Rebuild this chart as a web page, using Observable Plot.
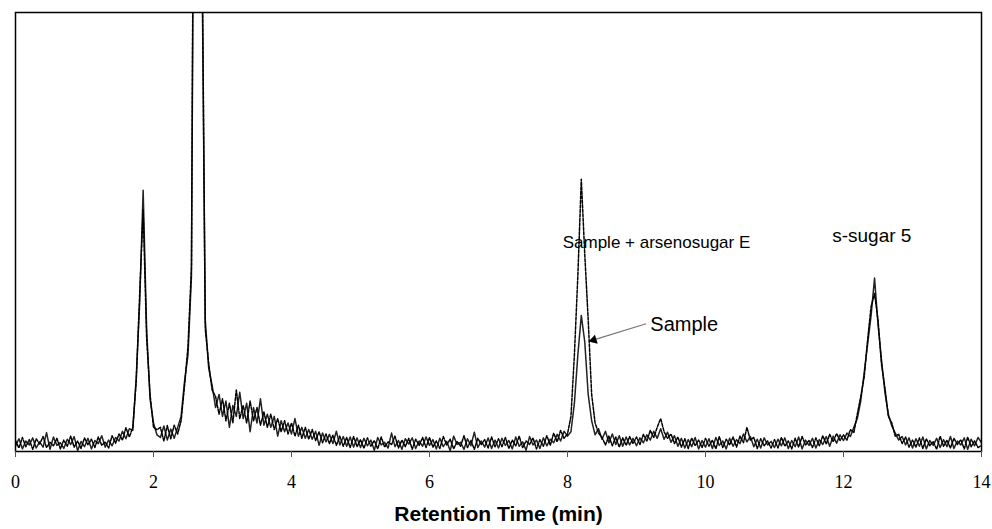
<!DOCTYPE html>
<html>
<head>
<meta charset="utf-8">
<script src="https://cdn.jsdelivr.net/npm/d3@7"></script>
<script src="https://cdn.jsdelivr.net/npm/@observablehq/plot@0.6"></script>
<style>
  html, body { margin: 0; padding: 0; background: #fff; }
  #chart { width: 992px; height: 529px; }
</style>
</head>
<body>
<div id="chart"></div>
<script>
// Sampling grid: 0.00 .. 14.00 min every 0.05 min (281 samples)
const timeStart = 0, timeStep = 0.05, sampleCount = 281;
const times = d3.range(sampleCount).map(i => +(timeStart + i * timeStep).toFixed(2));

// Detector response (arbitrary units, 0 = baseline axis, 100 = top of frame)
// One row per minute (20 samples each), last row = 14.00
const sample = [
  1.2, 2.9, 0.6, 2.4, 1.5, 3.1, 0.8, 2.2, 1.0, 4.3, 0.5, 3.3, 1.4, 2.0, 0.7, 2.8, 1.6, 3.4, 0.2, 2.3,
  1.1, 3.0, 0.6, 2.5, 1.8, 3.6, 1.0, 2.6, 1.3, 3.2, 2.4, 4.6, 2.9, 5.2, 4.8, 17, 34, 59.5, 28, 12,
  6.5, 3.8, 3.2, 5.8, 2.6, 5.1, 3.0, 5.5, 8, 16, 22, 40, 190, 250, 118, 30, 19, 15, 10, 13,
  8, 11.5, 5.5, 10.5, 8, 13.5, 7.5, 11, 4.5, 10, 6.5, 12, 6, 8.5, 5.5, 8, 3.5, 7, 4.5, 6.5,
  4, 7.5, 3.5, 5.5, 3, 5, 2.8, 4.6, 1.4, 4.2, 2.2, 3.9, 1.8, 4.6, 1.5, 3.4, 1.2, 3.3, 1.0, 3.1,
  0.9, 3.0, 1.3, 2.6, 0.3, 3.2, 1.5, 2.1, 0.8, 4.2, 1.1, 2.5, 0.5, 2.9, 1.7, 3.1, 0.7, 2.4, 1.2, 3.3,
  1.4, 2.7, 0.6, 3.0, 1.1, 2.3, 0.2, 3.5, 1.6, 2.1, 0.5, 2.9, 1.3, 4.4, 0.9, 2.4, 1.0, 3.1, 0.7, 2.6,
  0.8, 3.0, 1.4, 2.5, 0.6, 3.3, 1.2, 2.2, 0.3, 3.4, 1.5, 2.6, 0.7, 3.1, 1.3, 2.8, 2.0, 3.9, 2.4, 4.6,
  3.5, 4.5, 11, 22, 31, 25, 13, 7, 3.8, 5.2, 2.8, 4.6, 2.0, 4.0, 1.6, 3.6, 1.2, 3.3, 1.5, 3.0,
  1.3, 3.1, 2.0, 3.8, 2.6, 4.6, 3.0, 5.2, 2.8, 4.4, 2.1, 3.6, 1.2, 3.0, 0.8, 2.7, 1.1, 3.2, 0.6, 2.5,
  1.0, 2.9, 0.7, 3.2, 1.4, 2.4, 0.6, 3.0, 1.2, 2.7, 1.8, 4.0, 2.2, 3.4, 1.1, 2.8, 0.8, 3.1, 1.5, 2.3,
  0.9, 2.8, 1.3, 3.1, 0.7, 2.5, 1.1, 3.3, 0.6, 2.6, 1.4, 3.0, 0.8, 2.7, 1.6, 3.4, 1.2, 3.5, 1.9, 3.8,
  2.5, 4.2, 3.4, 5.5, 7.5, 11.5, 18, 24.5, 31, 39.5, 29, 21, 13.5, 8.5, 5.8, 4.2, 2.6, 3.4, 1.5, 3.1,
  0.8, 2.9, 1.2, 3.3, 0.6, 2.5, 1.4, 3.0, 0.9, 2.7, 1.1, 3.4, 0.7, 2.4, 1.5, 3.1, 0.5, 2.8, 1.3, 3.2,
  2.0
];
const sampleSpiked = [
  2.5, 0.8, 3.2, 1.1, 2.7, 0.5, 2.9, 1.7, 3.4, 0.9, 2.1, 1.3, 3.0, 0.6, 2.6, 1.2, 3.5, 1.0, 2.4, 0.7,
  3.1, 1.5, 2.8, 0.9, 3.3, 1.4, 2.2, 0.8, 3.6, 1.9, 4.0, 2.6, 5.4, 3.3, 5.5, 16, 36, 55, 26, 13,
  5.5, 5.0, 5.5, 2.4, 5.9, 2.9, 6.0, 4.0, 7, 15, 24, 42, 200, 260, 125, 28, 20, 14, 12.5, 8.5,
  12, 7, 11, 6.5, 14, 7.5, 10.5, 6.5, 11.5, 7, 10, 6, 9, 5.5, 8.5, 5, 7.5, 4.5, 7, 4,
  6.5, 3.5, 6, 3, 5.5, 2.8, 5, 2.5, 4.5, 2, 4, 1.8, 3.7, 1.4, 3.5, 1.2, 3.2, 0.9, 3.4, 1.1,
  2.7, 0.7, 3.1, 1.2, 2.5, 0.6, 3.3, 1.0, 2.2, 1.6, 3.5, 0.8, 2.6, 1.1, 3.0, 0.5, 2.8, 1.4, 3.2, 0.9,
  3.2, 1.0, 2.4, 0.7, 3.4, 1.5, 2.8, 0.6, 2.3, 1.2, 3.6, 0.9, 2.5, 0.5, 3.0, 1.6, 2.7, 0.8, 3.3, 1.1,
  2.9, 1.1, 3.2, 0.7, 2.6, 1.3, 3.5, 0.9, 2.4, 1.6, 3.1, 0.6, 2.7, 1.2, 3.6, 1.4, 4.2, 2.2, 4.8, 3.0,
  4.0, 8, 22, 40, 62, 45, 30, 13, 6.5, 4.2, 3.2, 1.5, 3.5, 1.3, 3.3, 1.0, 3.1, 1.4, 3.4, 1.8,
  3.3, 1.6, 3.9, 2.4, 4.8, 3.2, 5.5, 7.5, 4.5, 3.0, 4.0, 1.8, 3.3, 1.0, 2.9, 0.7, 3.1, 1.3, 2.6, 0.9,
  3.0, 1.2, 2.6, 0.6, 3.4, 0.9, 2.8, 1.5, 3.3, 1.0, 3.5, 2.0, 5.5, 2.6, 3.2, 0.7, 2.9, 1.3, 2.4, 0.8,
  2.7, 0.8, 3.2, 1.2, 2.4, 0.6, 3.0, 1.0, 3.4, 1.5, 2.5, 0.9, 3.1, 1.3, 3.6, 1.7, 3.9, 2.2, 4.1, 2.5,
  3.8, 2.6, 5.0, 4.3, 8.5, 12.5, 17, 25.5, 33, 36, 30, 20, 14.5, 8, 6.5, 3.5, 3.9, 1.8, 3.3, 1.0,
  2.6, 1.0, 3.1, 0.7, 2.9, 1.3, 2.3, 0.5, 3.5, 1.2, 2.6, 0.8, 3.0, 1.6, 2.7, 0.6, 3.3, 1.1, 2.4, 0.9,
  1.4
];

const xTicks = [0, 2, 4, 6, 8, 10, 12, 14];
const xTitle = "Retention Time (min)";

// Annotations (data units)
const labelTexts = ["Sample + arsenosugar E", "s-sugar 5"];
const labelX = [9.29, 12.41];
const labelY = [47.5, 49.2];
const labelSize = [17, 19];
const arrowText = "Sample";
const arrowTextX = 9.20, arrowTextY = 28.9;
const arrowFromX = 9.14, arrowFromY = 29.1;
const arrowHeadX = 8.38, arrowHeadY = 25.4;

const labels = labelTexts.map((t, i) => ({t, x: labelX[i], y: labelY[i], s: labelSize[i]}));

const chart = Plot.plot({
  width: 992,
  height: 529,
  marginLeft: 15,
  marginRight: 11,
  marginTop: 12,
  marginBottom: 78,
  style: {background: "#fff", color: "#000"},
  x: {domain: [0, 14]},
  y: {domain: [0, 100], axis: null},
  marks: [
    Plot.lineY(sample, {x: times, stroke: "#222", strokeWidth: 1.5, clip: true}),
    Plot.lineY(sampleSpiked, {x: times, stroke: "#000", strokeWidth: 1.5, strokeDasharray: "3,1.5", clip: true}),
    Plot.frame({stroke: "#000", strokeWidth: 1.5}),
    Plot.axisX({ticks: xTicks, tickSize: 6, tickPadding: 18, fontSize: 18,
      fontFamily: "Liberation Serif", stroke: "#555", label: null, tickFormat: d => String(d)}),
    Plot.text([xTitle], {frameAnchor: "bottom", dy: 69, fontSize: 21, fontWeight: "bold",
      fontFamily: "Liberation Sans", fill: "#000", style: "letter-spacing:0.4px"}),
    Plot.text(labels, {x: "x", y: "y", text: "t", fontSize: "s", fontFamily: "Liberation Sans", fill: "#000"}),
    Plot.text([arrowText], {x: () => arrowTextX, y: () => arrowTextY, textAnchor: "start",
      fontSize: 20, fontFamily: "Liberation Sans", fill: "#000"}),
    Plot.link([0], {x1: () => arrowFromX, y1: () => arrowFromY, x2: () => arrowHeadX, y2: () => arrowHeadY,
      stroke: "#777", strokeWidth: 1.3}),
    Plot.dot([0], {x: () => arrowHeadX, y: () => arrowHeadY, symbol: "triangle2", r: 4.5,
      rotate: 253, fill: "#000", stroke: "none"})
  ]
});
document.getElementById("chart").appendChild(chart);
</script>
</body>
</html>
